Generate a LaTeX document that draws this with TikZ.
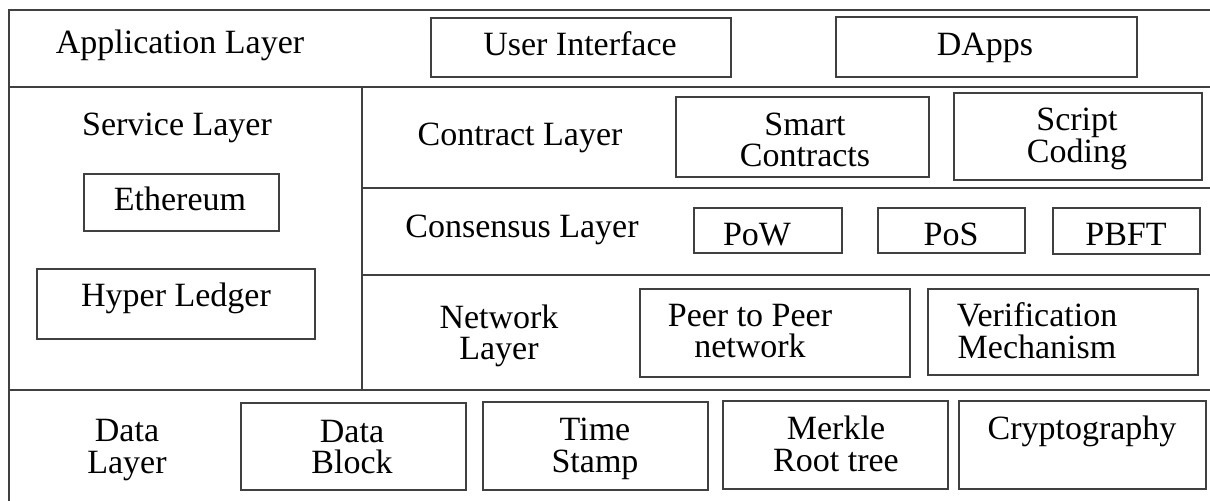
\documentclass[tikz,border=0pt]{standalone}
\usepackage{fontspec}
\setmainfont{Liberation Serif}
\begin{document}
\begin{tikzpicture}[x=0.5pt,y=-0.5pt,
  rule/.style={line width=1pt,draw=black!75},
  box/.style={draw=black!75,line width=0.9pt,rectangle,inner sep=0pt},
  lbl/.style={align=center,inner sep=0pt,font=\fontsize{17}{15.8}\selectfont},
  lblone/.style={lbl,text height=11.5pt,text depth=0pt}]
\useasboundingbox (0,0) rectangle (1210,501);

% frame and layer dividers
\draw[rule] (1210,10) -- (8.5,10) -- (8.5,501);
\draw[rule] (8,87) -- (1210,87);
\draw[rule] (362,87) -- (362,390);
\draw[rule] (362,188) -- (1210,188);
\draw[rule] (362,275) -- (1210,275);
\draw[rule] (8,390) -- (1210,390);

% application layer
\node[lblone] (app) at (180,42) {Application Layer};
\node[box,minimum width=150pt,minimum height=29.5pt] (ui) at (581,47.5) {};
\node[lblone] (uit) at (580,44) {User Interface};
\node[box,minimum width=150.5pt,minimum height=30pt] (dapps) at (986.5,47) {};
\node[lblone] (dappst) at (985,44) {DApps};

% service layer
\node[lblone] (srv) at (177,124) {Service Layer};
\node[box,minimum width=97.5pt,minimum height=28.5pt] (eth) at (181.5,202.5) {};
\node[lblone] (etht) at (180,199) {Ethereum};
\node[box,minimum width=139pt,minimum height=35pt] (hl) at (176,304) {};
\node[lblone] (hlt) at (176,295) {Hyper Ledger};

% contract layer
\node[lblone] (con) at (520,134) {Contract Layer};
\node[box,minimum width=126.5pt,minimum height=40pt] (sc) at (802.5,137) {};
\node[lbl] (sct) at (805,140) {Smart\\Contracts};
\node[box,minimum width=124pt,minimum height=43.5pt] (scr) at (1078,136.5) {};
\node[lbl] (scrt) at (1077,139) {Script\\Coding};

% consensus layer
\node[lblone] (cns) at (522,226) {Consensus Layer};
\node[box,minimum width=74pt,minimum height=22.5pt] (pow) at (768,230.5) {};
\node[lblone] (powt) at (757,234) {PoW};
\node[box,minimum width=73.5pt,minimum height=22.5pt] (pos) at (951.5,230.5) {};
\node[lblone] (post) at (951,234) {PoS};
\node[box,minimum width=73.5pt,minimum height=23pt] (pbft) at (1126.5,231) {};
\node[lblone] (pbftt) at (1126,234) {PBFT};

% network layer
\node[lbl] (net) at (499,336) {Network\\Layer};
\node[box,minimum width=135pt,minimum height=44pt] (p2p) at (775,333) {};
\node[lbl] (p2pt) at (750,331) {Peer to Peer\\network};
\node[box,minimum width=135pt,minimum height=43pt] (ver) at (1063,332) {};
\node[lbl] (vert) at (1037,331) {Verification\\Mechanism};

% data layer
\node[lbl] (dat) at (127,450) {Data\\Layer};
\node[box,minimum width=112.5pt,minimum height=43.5pt] (db) at (353.5,446.5) {};
\node[lbl] (dbt) at (352,447) {Data\\Block};
\node[box,minimum width=112.5pt,minimum height=44pt] (ts) at (595.5,446) {};
\node[lbl] (tst) at (595,449) {Time\\Stamp};
\node[box,minimum width=112.5pt,minimum height=44pt] (mk) at (835.5,445) {};
\node[lbl] (mkt) at (836,444) {Merkle\\Root tree};
\node[box,minimum width=123.5pt,minimum height=44pt] (cr) at (1082.5,445) {};
\node[lblone] (crt) at (1082,428) {Cryptography};
\end{tikzpicture}
\end{document}
